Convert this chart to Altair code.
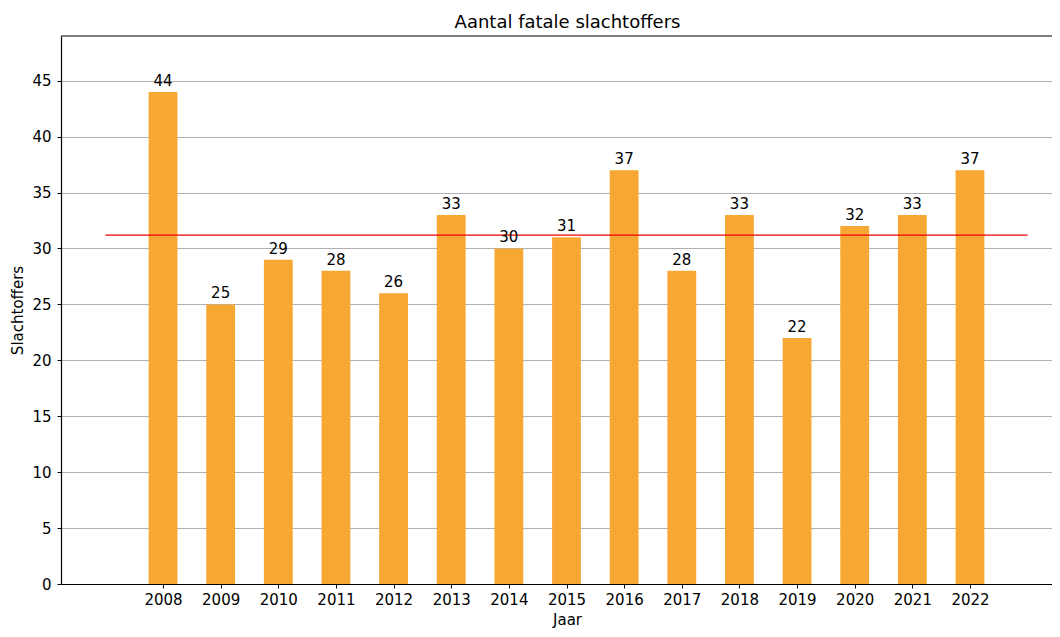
import altair as alt
import pandas as pd

years = [2008, 2009, 2010, 2011, 2012, 2013, 2014, 2015, 2016, 2017, 2018, 2019, 2020, 2021, 2022]
victims = [44, 25, 29, 28, 26, 33, 30, 31, 37, 28, 33, 22, 32, 33, 37]
mean_val = sum(victims) / len(victims)

df = pd.DataFrame({"Jaar": years, "Slachtoffers": victims})
mean_df = pd.DataFrame({"x0": [2007], "x1": [2023], "m": [mean_val]})

W, H = 991, 548
FONT = "DejaVu Sans"

xscale = alt.Scale(domain=[2006.23, 2023.423], nice=False, zero=False, padding=0)
yscale = alt.Scale(domain=[0, 49], nice=False, padding=0)

base = alt.Chart(df).transform_calculate(
    xa="datum.Jaar - 0.25", xb="datum.Jaar + 0.25"
)

bars = base.mark_bar(color="#f7a734").encode(
    x=alt.X("xa:Q", scale=xscale,
            axis=alt.Axis(values=years, format="d", title="Jaar", grid=False,
                          labelPadding=4,
                          titleX=506, titleY=40, titleBaseline="alphabetic")),
    x2="xb:Q",
    y=alt.Y("Slachtoffers:Q", scale=yscale,
            axis=alt.Axis(values=list(range(0, 50, 5)), title="Slachtoffers",
                          grid=True, labelPadding=6, titlePadding=6)),
    y2=alt.datum(0),
)

labels = alt.Chart(df).mark_text(baseline="alphabetic", dy=-6, fontSize=15,
                                 font=FONT, color="black").encode(
    x=alt.X("Jaar:Q", scale=xscale),
    y=alt.Y("Slachtoffers:Q", scale=yscale),
    text="Slachtoffers:Q",
)

line = alt.Chart(mean_df).mark_rule(color="#ee0000", strokeWidth=1.2).encode(
    x=alt.X("x0:Q", scale=xscale),
    x2="x1:Q",
    y=alt.Y("m:Q", scale=yscale),
)

topline = alt.Chart(mean_df).mark_rule(color="black", strokeWidth=1.2).encode(
    x=alt.value(0), x2=alt.value(W), y=alt.value(0)
)

chart = alt.layer(bars, line, labels, topline).properties(
    width=W, height=H,
    title=alt.TitleParams("Aantal fatale slachtoffers", fontSize=18, font=FONT,
                          fontWeight="normal", color="black", dx=11, offset=3),
    autosize=alt.AutoSizeParams(type="none"),
    padding={"left": 53, "top": 28, "right": 0, "bottom": 45},
).configure_view(stroke=None).configure_axis(
    labelFont=FONT, titleFont=FONT, labelFontSize=15, titleFontSize=15,
    labelColor="black", titleColor="black", titleFontWeight="normal",
    domainColor="black", domainWidth=1.2, tickColor="black", tickSize=4,
    gridColor="#b0b0b0", gridWidth=1,
).configure_axisX(labelAngle=0)

chart.save("out.html", embed_options={"renderer": "svg", "actions": False})
